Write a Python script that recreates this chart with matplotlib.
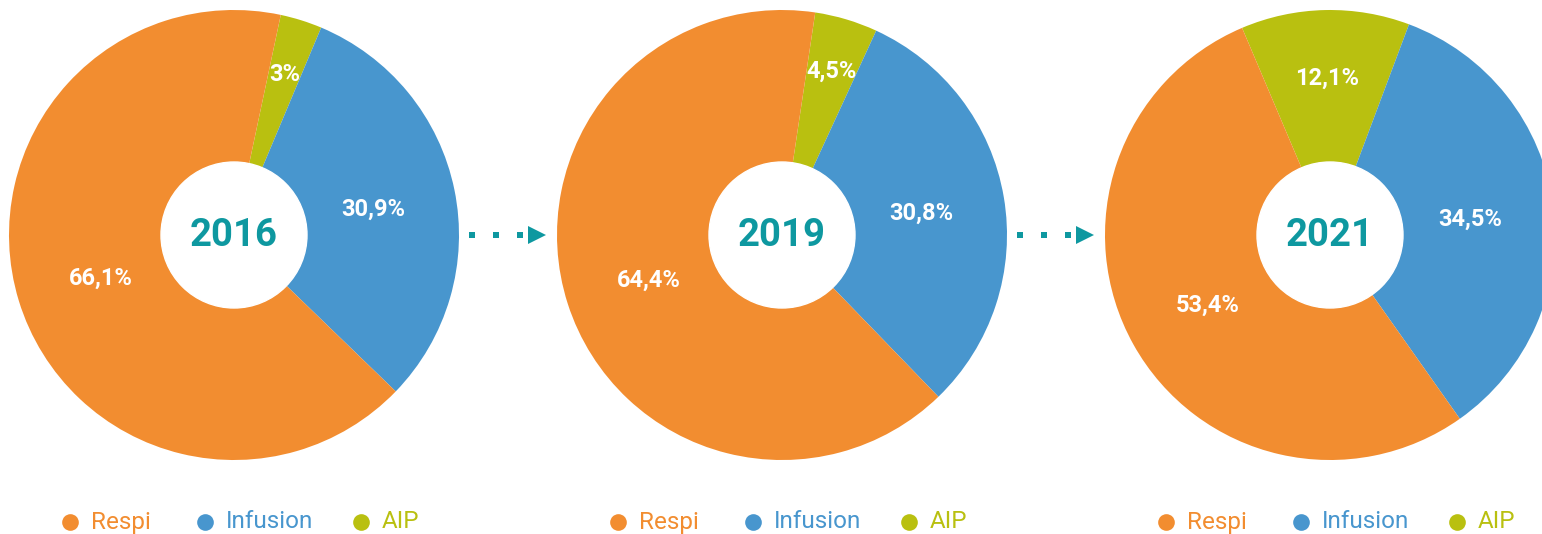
import numpy as np
import matplotlib.pyplot as plt
from matplotlib.patches import Circle

plt.rcParams['font.family'] = ['Roboto', 'DejaVu Sans']

years = ['2016', '2019', '2021']
categories = ['AIP', 'Infusion', 'Respi']
aip = [3.0, 4.5, 12.1]
infusion = [30.9, 30.8, 34.5]
respi = [66.1, 64.4, 53.4]
labels_aip = ['3%', '4,5%', '12,1%']
labels_inf = ['30,9%', '30,8%', '34,5%']
labels_respi = ['66,1%', '64,4%', '53,4%']
legend_order = ['Respi', 'Infusion', 'AIP']

colors = {'Respi': '#F28D30', 'Infusion': '#4896CE', 'AIP': '#B9C010'}
teal = '#0E98A0'

W, H = 1542, 534
fig = plt.figure(figsize=(W / 100, H / 100), dpi=100)
ax = fig.add_axes([0, 0, 1, 1])

centers_x = [234, 782, 1330]
cy = H - 235
R = 225
r_hole = 73
starts = [78, 81.5, 113]  # matplotlib startangle, wedges drawn clockwise
aip_dist = [0.76, 0.77, 0.71]

for i in range(3):
    cx = centers_x[i]
    vals = [aip[i], infusion[i], respi[i]]
    labs = [labels_aip[i], labels_inf[i], labels_respi[i]]
    dists = [aip_dist[i], 0.63, 0.62]
    ax.pie(vals, colors=[colors[c] for c in categories],
           startangle=starts[i], counterclock=False,
           center=(cx, cy), radius=R, frame=True)
    # percentage labels
    total = sum(vals)
    a0 = starts[i]
    for v, lab, d in zip(vals, labs, dists):
        mid = a0 - v / total * 360 / 2
        a0 -= v / total * 360
        th = np.deg2rad(mid)
        ax.text(cx + d * R * np.cos(th), cy + d * R * np.sin(th), lab,
                color='white', fontsize=17, fontweight='bold',
                ha='center', va='center_baseline')
    ax.add_patch(Circle((cx, cy), r_hole, color='white', zorder=5))
    ax.text(cx, cy, years[i], color=teal, fontsize=27.5, fontweight='bold',
            ha='center', va='center', zorder=6)

    # legend
    offs = [-164, -29, 127]
    for c, o in zip(legend_order, offs):
        ax.plot(cx + o, H - 522, 'o', color=colors[c], markersize=12,
                markeredgewidth=0)
        ax.text(cx + o + 21, H - 522, c, color=colors[c], fontsize=17.5,
                ha='left', va='center')

    # dotted arrow to next pie
    if i < 2:
        for dx in [238, 262, 286]:
            ax.plot(cx + dx, cy, 's', color=teal, markersize=4, markeredgewidth=0)
        ax.plot(cx + 303, cy, '>', color=teal, markersize=13, markeredgewidth=0)

ax.set_xlim(0, W)
ax.set_ylim(0, H)
ax.set_aspect('equal')
ax.axis('off')

fig.savefig('out.png', dpi=100, facecolor='white')
